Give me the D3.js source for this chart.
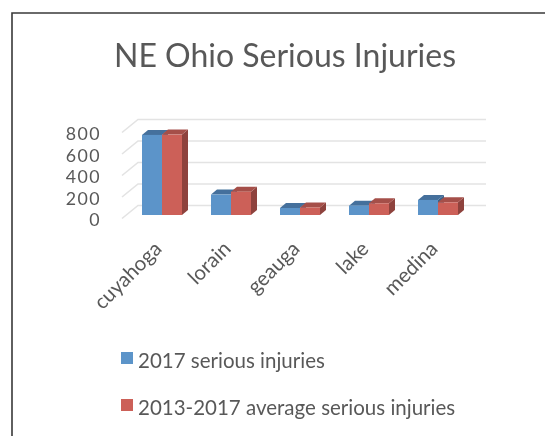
<!DOCTYPE html>
<html><head><meta charset="utf-8">
<script src="https://cdn.jsdelivr.net/npm/d3@7"></script>
<style>html,body{margin:0;padding:0;background:#fff;overflow:hidden}svg{display:block}text{font-family:Lato,"Open Sans",sans-serif;fill:#595959}</style>
</head><body><script>
const categories = ["cuyahoga","lorain","geauga","lake","medina"];
const seriesNames = ["2017 serious injuries","2013-2017 average serious injuries"];
const values2017 = [745,190,65,87,140];
const valuesAvg = [748,217,70,109,118];
const yTicks = [0,200,400,600,800];
const title = "NE Ohio Serious Injuries";
const colors = ["#5b94c9","#cc6158"], topColors = ["#44709c","#a5504a"], sideColors = ["#3c6288","#8e433e"];

const W=545,H=436;
const svg=d3.select("body").append("svg").attr("width",W).attr("height",H);
const defs=svg.append("defs");
defs.append("filter").attr("id","soft").append("feGaussianBlur").attr("stdDeviation",0.45);
const root=svg.append("g").attr("filter","url(#soft)");

root.append("path").attr("d",`M12 ${H+2}V13H${W+2}`).attr("fill","none").attr("stroke","#3a3a3a").attr("stroke-width",1.6);
root.append("text").attr("x",285).attr("y",67).attr("text-anchor","middle").attr("font-size",32).text(title);

const y=d3.scaleLinear().domain([0,800]).range([218.5,132.5]);
const x0=d3.scaleBand().domain(categories).range([122,467]);
const wallDx=16,wallDy=-13, wallRight=486;
const grid=root.append("g").attr("fill","none").attr("stroke","#e3e3e3").attr("stroke-width",1.6);
yTicks.forEach(t=>{
  const p=y(t);
  grid.append("path").attr("d",`M${x0.range()[0]} ${p}L${x0.range()[0]+wallDx} ${p+wallDy}H${wallRight}`);
});
const axis=d3.axisLeft(y).tickValues(yTicks).tickSize(0).tickPadding(0);
const ag=root.append("g").attr("transform","translate(101,1)").call(axis);
ag.select(".domain").remove();
ag.selectAll("text").attr("font-size",17.8).attr("letter-spacing",1.4).attr("dy","0.36em");

const barW=20, inset=20, baseShift=-3.5, dx=6, dy=-5;
const bars=root.append("g");
const series=[values2017,valuesAvg];
categories.forEach((c,i)=>{
  series.forEach((vals,s)=>{
    const v=vals[i];
    const x=x0(c)+inset+s*barW, top=y(v)+baseShift, base=y(0)+baseShift;
    const g=bars.append("g");
    g.append("path").attr("fill",sideColors[s]).attr("d",`M${x+barW} ${top}l${dx} ${dy}V${base+dy}l${-dx} ${-dy}Z`);
    g.append("path").attr("fill",topColors[s]).attr("d",`M${x} ${top}l${dx} ${dy}h${barW}l${-dx} ${-dy}Z`);
    g.append("rect").attr("x",x).attr("y",top).attr("width",barW).attr("height",base-top).attr("fill",colors[s]);
  });
});

root.append("g").selectAll("text").data(categories).join("text")
  .attr("text-anchor","end").attr("font-size",20.5)
  .attr("transform",c=>`translate(${x0(c)+41},${250}) rotate(-45)`)
  .text(d=>d);

const legY=[352,399];
seriesNames.forEach((n,i)=>{
  root.append("rect").attr("x",121).attr("y",legY[i]).attr("width",12).attr("height",12).attr("fill",colors[i]);
  root.append("text").attr("x",138).attr("y",legY[i]+16).attr("font-size",20.5).text(n);
});
</script></body></html>
